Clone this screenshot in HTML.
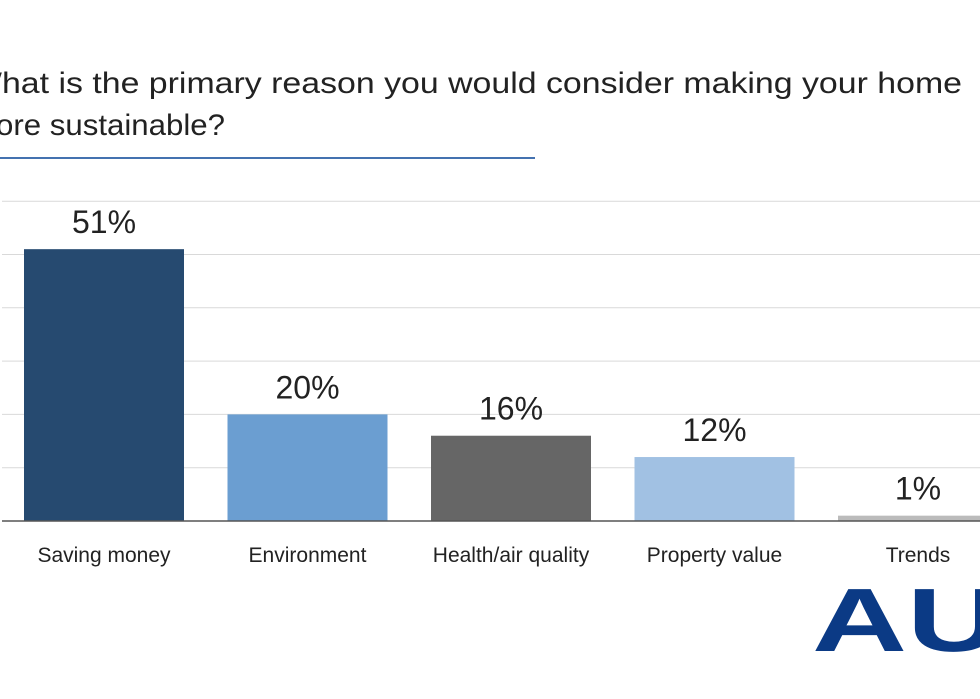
<!DOCTYPE html>
<html><head><meta charset="utf-8"><style>
html,body{margin:0;padding:0;background:#fff;width:980px;height:699px;overflow:hidden}
svg{display:block}
text{font-family:"Liberation Sans",sans-serif}
</style></head><body>
<svg id="c" width="980" height="699">
<text x="-30" y="93" font-size="30" fill="#222" textLength="992" lengthAdjust="spacingAndGlyphs">What is the primary reason you would consider making your home</text>
<text x="-30" y="135" font-size="30" fill="#222" textLength="255" lengthAdjust="spacingAndGlyphs">more sustainable?</text>
<rect x="0" y="157" width="535" height="2" fill="#4472b0"/>
<g id="grid"></g><g id="bars"></g>
<text x="812" y="651" font-size="90" font-weight="bold" fill="#0b3a85" textLength="190" lengthAdjust="spacingAndGlyphs">AU</text>
</svg>
<script>
const categories=["Saving money","Environment","Health/air quality","Property value","Trends"];
const values=[51,20,16,12,1];
const colors=["#264a70","#6b9ed1","#666666","#a1c1e3","#bbbbbb"];
const ticks=[0,10,20,30,40,50,60];
const y0=521,pxPer=5.33;
function y(v){return y0-v*pxPer;}
function cx(i){return 104+i*203.5;}
const ns="http://www.w3.org/2000/svg";
const g=document.getElementById('grid'),b=document.getElementById('bars');
function mk(t,a,p){const e=document.createElementNS(ns,t);for(const k in a)e.setAttribute(k,a[k]);p.appendChild(e);return e;}
ticks.forEach(t=>{if(t===0)return;const l=mk('line',{x1:2,x2:980,y1:y(t),y2:y(t),stroke:'#d9d9d9','stroke-width':1},g);

});
values.forEach((v,i)=>{
const r=mk('rect',{x:cx(i)-80,y:y(v),width:160,height:y0-y(v),fill:colors[i]},b);


const t=mk('text',{x:cx(i),y:y(v)-16,'text-anchor':'middle','font-size':32,fill:'#222'},b);t.textContent=v+'%';


const c=mk('text',{x:cx(i),y:562,'text-anchor':'middle','font-size':21,fill:'#222'},b);c.textContent=categories[i];


});
const ax=mk('line',{x1:2,x2:980,y1:y0,y2:y0,stroke:'#555','stroke-width':1.5},b);


</script>
</body></html>
